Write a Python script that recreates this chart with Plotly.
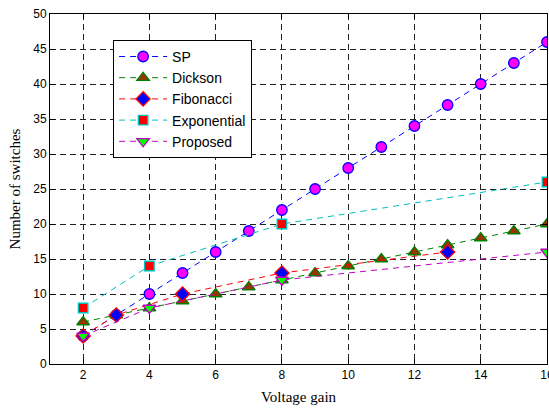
import plotly.graph_objects as go

sp_x = [2, 3, 4, 5, 6, 7, 8, 9, 10, 11, 12, 13, 14, 15, 16]
sp_y = [4, 7, 10, 13, 16, 19, 22, 25, 28, 31, 34, 37, 40, 43, 46]
dickson_x = [2, 3, 4, 5, 6, 7, 8, 9, 10, 11, 12, 13, 14, 15, 16]
dickson_y = [6, 7, 8, 9, 10, 11, 12, 13, 14, 15, 16, 17, 18, 19, 20]
fib_x = [2, 3, 5, 8, 13]
fib_y = [4, 7, 10, 13, 16]
exp_x = [2, 4, 8, 16]
exp_y = [8, 14, 20, 26]
prop_x = [2, 4, 8, 16]
prop_y = [4, 8, 12, 16]

x_ticks = [2, 4, 6, 8, 10, 12, 14, 16]
y_ticks = [0, 5, 10, 15, 20, 25, 30, 35, 40, 45, 50]

series = [
    ("SP", sp_x, sp_y, "#0000ff", "circle", "#ff00ff", "#0000ff", 10.5),
    ("Dickson", dickson_x, dickson_y, "#008000", "triangle-up", "#993300", "#008000", 11),
    ("Fibonacci", fib_x, fib_y, "#ff0000", "diamond", "#0000ff", "#ff0000", 11),
    ("Exponential", exp_x, exp_y, "#00bfbf", "square", "#ff0000", "#00bfbf", 9.5),
    ("Proposed", prop_x, prop_y, "#bf00bf", "triangle-down", "#00ff00", "#bf00bf", 11),
]

fig = go.Figure()
for name, xs, ys, lc, sym, fc, ec, sz in series:
    fig.add_trace(go.Scatter(
        x=xs, y=ys, name=name, mode="lines+markers",
        line=dict(color=lc, width=1, dash="6px,5px"),
        marker=dict(symbol=sym, size=sz, color=fc,
                    line=dict(color=ec, width=1.3)),
    ))

axis_common = dict(
    showline=True, linecolor="black", linewidth=1, mirror="ticks",
    ticks="inside", ticklen=5, tickcolor="black",
    showgrid=True, gridcolor="#222222", gridwidth=1, griddash="6px,4px",
    zeroline=False, automargin=False, ticklabeloverflow="allow",
    tickfont=dict(family="Liberation Sans, Arial", size=12, color="black"),
)

fig.update_xaxes(range=[1, 16], tickvals=x_ticks,
                 title=dict(text="Voltage gain", font=dict(family="Liberation Serif, Times New Roman", size=15, color="black"), standoff=10),
                 **axis_common)
fig.update_yaxes(range=[0, 50], tickvals=y_ticks,
                 title=dict(text="Number of switches", font=dict(family="Liberation Serif, Times New Roman", size=15, color="black"), standoff=8),
                 **axis_common)

fig.update_layout(
    width=549, height=409,
    margin=dict(l=50, r=2, t=14, b=45),
    plot_bgcolor="white", paper_bgcolor="white",
    legend=dict(x=0.127, y=0.926, xanchor="left", yanchor="top",
                bgcolor="white", bordercolor="black", borderwidth=1,
                font=dict(family="Liberation Sans, Arial", size=14, color="black"),
                itemwidth=48, tracegroupgap=0),
    showlegend=True,
)

fig.write_html("out.html", config={"displayModeBar": False},
               post_script="document.body.style.margin='0';document.body.style.overflow='hidden';")
